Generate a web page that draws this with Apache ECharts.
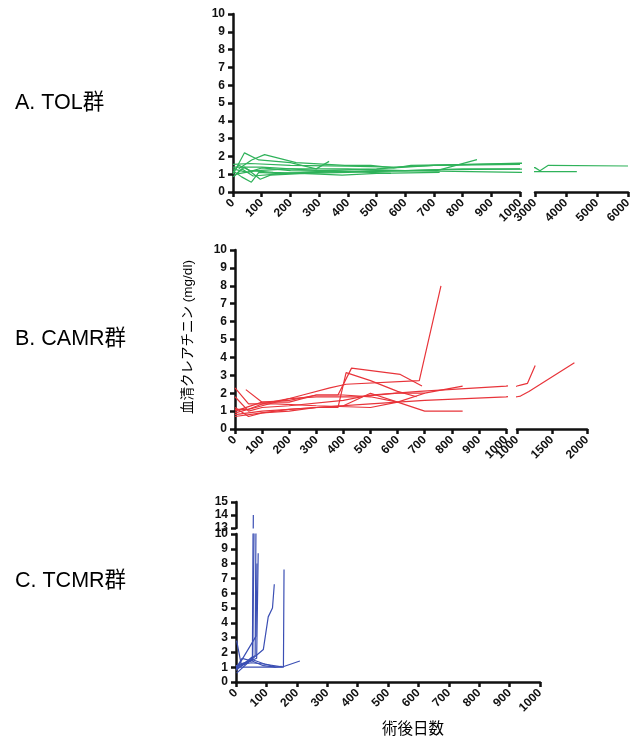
<!DOCTYPE html>
<html><head><meta charset="utf-8">
<script src="https://cdn.jsdelivr.net/npm/echarts@6/dist/echarts.min.js"></script>
<style>html,body{margin:0;padding:0;background:#fff}#c{width:638px;height:739px}</style>
</head><body><div id="c"></div>
<script>
// ---- Data: each series is [postoperative day, serum creatinine mg/dl] ----
// A. TOL group
const tol1 = [[0,1.0],[40,2.2],[90,1.8],[200,1.65],[290,1.3],[335,1.72]];
const tol2 = [[20,1.3],[65,1.8],[110,2.1],[220,1.65],[390,1.5],[480,1.5],[560,1.35],[620,1.5],[1000,1.6],[1100,1.6]];
const tol3 = [[0,1.55],[60,1.6],[200,1.5],[400,1.45],[560,1.4],[700,1.5],[1000,1.62],[1100,1.62]];
const tol4 = [[0,1.2],[30,0.85],[64,0.55],[90,1.1],[150,1.05],[300,1.1],[500,1.2],[710,1.2],[850,1.82]];
const tol5 = [[5,0.9],[40,1.4],[95,0.72],[130,0.95],[250,1.05],[400,1.1],[700,1.25],[1000,1.29],[3000,1.37],[3160,1.2],[3430,1.5],[6000,1.46]];
const tol6 = [[0,1.3],[50,1.1],[100,1.35],[200,1.2],[400,1.15],[600,1.2],[1000,1.1],[3000,1.14],[4350,1.14]];
const tol7 = [[0,1.1],[20,1.5],[60,1.2],[140,1.1],[300,1.0],[380,0.95],[500,1.05],[720,1.1]];
const tol8 = [[10,1.0],[80,1.2],[200,1.3],[400,1.3],[600,1.2],[800,1.3],[1000,1.3]];
const tol9 = [[0,0.85],[30,1.3],[70,0.9],[150,1.0],[350,1.2],[550,1.05]];
const tol10 = [[0,1.4],[100,1.4],[300,1.2],[500,1.3],[700,1.5],[1000,1.55]];
// B. CAMR group
const camr1 = [[0,0.9],[100,1.3],[250,1.9],[350,2.3],[410,2.5],[680,2.7],[760,8.0]];
const camr2 = [[0,1.0],[100,1.5],[200,1.5],[300,1.9],[380,1.9],[430,3.4],[610,3.05],[690,2.4]];
const camr3 = [[0,1.2],[50,0.7],[100,0.9],[200,1.0],[300,1.2],[380,1.2],[410,3.15],[500,2.7],[600,2.1],[670,1.8]];
const camr4 = [[40,2.2],[100,1.5],[200,1.6],[300,1.9],[400,1.9],[500,1.8],[600,1.5],[700,1.0],[840,1.0]];
const camr5 = [[0,2.3],[50,1.4],[150,1.4],[300,1.3],[500,1.2],[600,1.5],[700,2.0],[840,2.4]];
const camr6 = [[0,1.8],[50,1.0],[100,1.2],[200,1.3],[400,1.6],[500,1.9],[680,2.1],[1000,2.4],[1050,2.45],[1150,2.55],[1260,3.55]];
const camr7 = [[0,0.8],[100,1.0],[300,1.2],[500,1.4],[700,1.6],[1000,1.8],[1050,1.84],[1170,2.1],[1820,3.7]];
const camr8 = [[0,0.7],[100,0.9],[200,1.1],[400,1.3],[500,2.0],[600,1.5]];
const camr9 = [[0,1.1],[50,1.1],[100,1.4],[200,1.7],[300,1.8],[450,1.8],[600,2.0],[700,2.0]];
// C. TCMR group
const tcmr1 = [[0,1.0],[30,1.3],[54,1.7],[57,14.0]];
const tcmr2 = [[0,0.8],[25,1.2],[55,1.5],[60,11.5]];
const tcmr3 = [[0,1.1],[40,1.4],[63,1.8],[66,11.5]];
const tcmr4 = [[0,0.9],[35,1.3],[68,1.6],[73,8.7]];
const tcmr5 = [[2,0.9],[66,3.1],[69,8.0]];
const tcmr6 = [[2,2.8],[18,1.1],[55,1.5],[96,1.2],[156,1.0],[158,7.6]];
const tcmr7 = [[2,0.6],[50,1.5],[90,2.2],[106,4.4],[120,5.0],[126,6.6]];
const tcmr8 = [[0,1.0],[150,1.0],[210,1.42]];
const tcmr9 = [[2,1.0],[20,1.6],[55,1.4],[90,1.1],[130,1.0],[150,1.05]];
const tcmr10 = [[0,1.1],[50,1.3],[100,1.2],[130,1.0]];

const tolGroup = [tol1,tol2,tol3,tol4,tol5,tol6,tol7,tol8,tol9,tol10];
const camrGroup = [camr1,camr2,camr3,camr4,camr5,camr6,camr7,camr8,camr9];
const tcmrGroup = [tcmr1,tcmr2,tcmr3,tcmr4,tcmr5,tcmr6,tcmr7,tcmr8,tcmr9,tcmr10];

const panelLabels = ['A. TOL群','B. CAMR群','C. TCMR群'];
const yTitle = '血清クレアチニン (mg/dl)';
const xTitle = '術後日数';

// ---- Styling ----
const FONT = 'Arial, "Liberation Sans", "Noto Sans CJK JP", sans-serif';
const axisLine = {show:true, lineStyle:{color:'#111', width:2.5}};
const axisTick = {show:true, length:5, lineStyle:{color:'#111', width:2.5}};
const lab = {color:'#111', fontWeight:'bold', fontSize:12, fontFamily:FONT, formatter: v => String(v)};
function xAx(grid, min, max, interval, show) {
  return {type:'value', gridIndex:grid, min, max, interval, show: show !== false,
    axisLine, axisTick, splitLine:{show:false},
    axisLabel:Object.assign({rotate:45, margin:9, interval:0, showMinLabel:true, showMaxLabel:true}, lab)};
}
function yAx(grid, min, max, show) {
  return {type:'value', gridIndex:grid, min, max, interval:1, show: show !== false,
    axisLine, axisTick, splitLine:{show:false},
    axisLabel:Object.assign({margin:8, showMinLabel:true, showMaxLabel:true}, lab)};
}

const grids = [
  {left:233, top:14, width:287, height:178},
  {left:535, top:14, width:93, height:178},
  {left:235, top:250, width:271, height:179},
  {left:517, top:250, width:70, height:179},
  {left:236, top:534, width:304, height:148},
  {left:236, top:502, width:304, height:26}
];
const xAxes = [
  xAx(0,0,1000,100), xAx(1,3000,6000,1000),
  xAx(2,0,1000,100), xAx(3,1000,2000,500),
  xAx(4,0,1000,100), xAx(5,0,1000,100,false)
];
const yAxes = [
  yAx(0,0,10), yAx(1,0,10,false),
  yAx(2,0,10), yAx(3,0,10,false),
  yAx(4,0,10), yAx(5,13,15)
];

const series = [];
function addGroup(group, color, axes) {
  group.forEach(d => axes.forEach(i => series.push({
    type:'line', data:d, xAxisIndex:i, yAxisIndex:i, symbol:'none', clip:true,
    lineStyle:{color, width:1.2}, silent:true, animation:false
  })));
}
addGroup(tolGroup, '#2fb25a', [0,1]);
addGroup(camrGroup, '#e8343a', [2,3]);
addGroup(tcmrGroup, '#3b4fb4', [4,5]);

const chart = echarts.init(document.getElementById('c'), null, {renderer:'canvas'});
chart.setOption({
  backgroundColor:'#fff',
  animation:false,
  grid:grids, xAxis:xAxes, yAxis:yAxes, series,
  graphic:[
    {type:'text', left:15, top:92, style:{text:panelLabels[0], font:'21.5px '+FONT, fill:'#000'}},
    {type:'text', left:15, top:328, style:{text:panelLabels[1], font:'21.5px '+FONT, fill:'#000'}},
    {type:'text', left:15, top:570, style:{text:panelLabels[2], font:'21.5px '+FONT, fill:'#000'}},
    {type:'text', x:188, y:337, rotation:Math.PI/2,
      style:{text:yTitle, font:'13.5px '+FONT, fill:'#000', textAlign:'center', textVerticalAlign:'middle'}},
    {type:'text', x:413, y:730,
      style:{text:xTitle, font:'15.5px '+FONT, fill:'#000', textAlign:'center', textVerticalAlign:'middle'}}
  ]
});
</script></body></html>
